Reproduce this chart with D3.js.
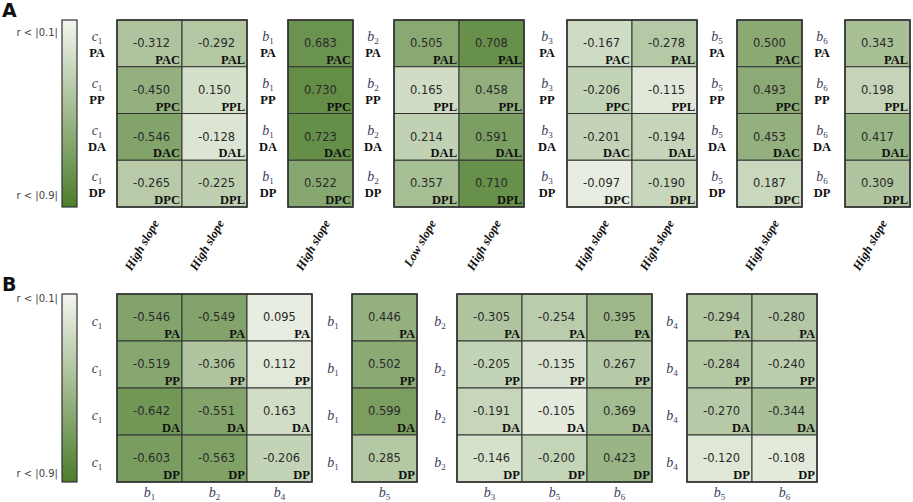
<!DOCTYPE html>
<html>
<head>
<meta charset="utf-8">
<script src="https://cdn.jsdelivr.net/npm/d3@7"></script>
<style>
  body { margin: 0; background: #fff; }
  .num { font-family: "DejaVu Sans", Verdana, sans-serif; font-size: 11.5px; fill: #2a2a2a; }
  .tag { font-family: "Liberation Serif", "Times New Roman", serif; font-weight: bold; font-size: 12.5px; fill: #111; }
  .var { font-family: "Liberation Serif", serif; font-style: italic; font-size: 14px; fill: #3d4060; }
  .slope { font-family: "Liberation Serif", serif; font-style: italic; font-weight: bold; font-size: 12.5px; fill: #111; }
  .leg { font-family: "DejaVu Sans", Verdana, sans-serif; font-size: 10px; fill: #444; }
  .panel { font-family: "DejaVu Sans", Arial, sans-serif; font-weight: bold; font-size: 19px; fill: #111; }
</style>
</head>
<body>
<script>
const W = 913, H = 502;
const rows = ['PA', 'PP', 'DA', 'DP'];

// panel A: one block per row variable, columns carry a suffix for the cell tag and a slope label
const aVars = ['c1', 'b1', 'b2', 'b3', 'b5', 'b6'];
const aSuffix = [['C', 'L'], ['C'], ['L', 'L'], ['C', 'L'], ['C'], ['L']];
const aSlope = [['High slope', 'High slope'], ['High slope'], ['Low  slope', 'High slope'],
                ['High slope', 'High slope'], ['High slope'], ['High slope']];
const aValues = [
  [[-0.312, -0.450, -0.546, -0.265], [-0.292, 0.150, -0.128, -0.225]],
  [[0.683, 0.730, 0.723, 0.522]],
  [[0.505, 0.165, 0.214, 0.357], [0.708, 0.458, 0.591, 0.710]],
  [[-0.167, -0.206, -0.201, -0.097], [-0.278, -0.115, -0.194, -0.190]],
  [[0.500, 0.493, 0.453, 0.187]],
  [[0.343, 0.198, 0.417, 0.309]]
];

// panel B
const bVars = ['c1', 'b1', 'b2', 'b4'];
const bCols = [['b1', 'b2', 'b4'], ['b5'], ['b3', 'b5', 'b6'], ['b5', 'b6']];
const bValues = [
  [[-0.546, -0.519, -0.642, -0.603], [-0.549, -0.306, -0.551, -0.563], [0.095, 0.112, 0.163, -0.206]],
  [[0.446, 0.502, 0.599, 0.285]],
  [[-0.305, -0.205, -0.191, -0.146], [-0.254, -0.135, -0.105, -0.200], [0.395, 0.267, 0.369, 0.423]],
  [[-0.294, -0.284, -0.270, -0.120], [-0.280, -0.240, -0.344, -0.108]]
];

const legendLabels = ['r < |0.1|', 'r < |0.9|'];

const LIGHT = '#eef2e8', DARK = '#4d7d2c';
// |r| -> position along the light..dark ramp
const tScale = d3.scaleLinear().domain([0.09, 0.2, 0.5, 0.73]).range([0.03, 0.26, 0.62, 0.86]).clamp(true);
const color = v => d3.interpolateRgb(LIGHT, DARK)(tScale(Math.abs(v)));

const svg = d3.select('body').append('svg').attr('width', W).attr('height', H);

function varLabel(g, name, x, y) {
  const t = g.append('text').attr('class', 'var').attr('x', x).attr('y', y).attr('text-anchor', 'middle');
  t.append('tspan').text(name[0]);
  t.append('tspan').attr('dy', 3).attr('font-size', 9).attr('font-style', 'normal').text(name.slice(1));
}

function legend(top, bottom, tTop, tBot) {
  const id = 'lg' + top;
  const grad = svg.append('defs').append('linearGradient').attr('id', id)
    .attr('x1', 0).attr('x2', 0).attr('y1', 0).attr('y2', 1);
  grad.append('stop').attr('offset', 0).attr('stop-color', '#f3f6ef');
  grad.append('stop').attr('offset', 1).attr('stop-color', DARK);
  svg.append('rect').attr('x', 62).attr('y', top).attr('width', 15).attr('height', bottom - top)
    .attr('fill', `url(#${id})`).attr('stroke', '#333').attr('stroke-width', 1.2);
  svg.append('text').attr('class', 'leg').attr('x', 58).attr('y', tTop).attr('text-anchor', 'end').text(legendLabels[0]);
  svg.append('text').attr('class', 'leg').attr('x', 58).attr('y', tBot).attr('text-anchor', 'end').text(legendLabels[1]);
}

function block(g, x0, y, colW, values, tagOf, numDy) {
  const x = d3.scaleBand().domain(d3.range(values.length)).range([x0, x0 + colW * values.length]);
  const cells = values.flatMap((col, ci) => col.map((v, ri) => ({ ci, ri, v })));
  const c = g.selectAll(null).data(cells).enter().append('g');
  c.append('rect')
    .attr('x', d => x(d.ci)).attr('y', d => y(rows[d.ri]))
    .attr('width', x.bandwidth()).attr('height', y.bandwidth())
    .attr('fill', d => color(d.v)).attr('stroke', '#333').attr('stroke-width', 1);
  c.append('text').attr('class', 'num')
    .attr('x', d => x(d.ci) + 16).attr('y', d => y(rows[d.ri]) + numDy)
    .text(d => d3.format('.3f')(d.v).replace('−', '-'));
  c.append('text').attr('class', 'tag').attr('text-anchor', 'end')
    .attr('x', d => x(d.ci) + x.bandwidth() - 2).attr('y', d => y(rows[d.ri]) + y.bandwidth() - 3)
    .text(d => tagOf(d));
  g.append('rect').attr('x', x0).attr('y', y.range()[0]).attr('width', colW * values.length)
    .attr('height', y.range()[1] - y.range()[0]).attr('fill', 'none').attr('stroke', '#333').attr('stroke-width', 1.6);
  return x;
}

// ---- panel A
svg.append('text').attr('class', 'panel').attr('x', 2).attr('y', 17).text('A');
legend(20, 207, 36, 199);
const yA = d3.scaleBand().domain(rows).range([20, 207]);
const aStart = [117, 288, 394, 567, 737, 845];
const aLabelX = [97, 268, 373, 547, 717, 822];
const gA = svg.append('g');
aVars.forEach((name, k) => {
  const x = block(gA, aStart[k], yA, 65, aValues[k], d => rows[d.ri] + aSuffix[k][d.ci], 27);
  rows.forEach(r => {
    varLabel(gA, name, aLabelX[k], yA(r) + 21);
    gA.append('text').attr('class', 'tag').attr('x', aLabelX[k]).attr('y', yA(r) + 37)
      .attr('text-anchor', 'middle').attr('font-size', 13.5).text(r);
  });
  aSlope[k].forEach((s, ci) => {
    const cx = x(ci) + x.bandwidth() / 2 + 10;
    gA.append('text').attr('class', 'slope').attr('text-anchor', 'end')
      .attr('transform', `translate(${cx},223) rotate(-60)`).text(s);
  });
});

// ---- panel B
svg.append('text').attr('class', 'panel').attr('x', 2).attr('y', 291).text('B');
legend(294, 482, 302, 477);
const yB = d3.scaleBand().domain(rows).range([294, 482]);
const bStart = [117, 352, 457, 687];
const bLabelX = [97, 333, 440, 672];
const gB = svg.append('g');
bVars.forEach((name, k) => {
  const x = block(gB, bStart[k], yB, 65, bValues[k], d => rows[d.ri], 27);
  rows.forEach(r => varLabel(gB, name, bLabelX[k], yB(r) + 32));
  bCols[k].forEach((cn, ci) => varLabel(gB, cn, x(ci) + x.bandwidth() / 2, 497));
});
</script>
</body>
</html>
